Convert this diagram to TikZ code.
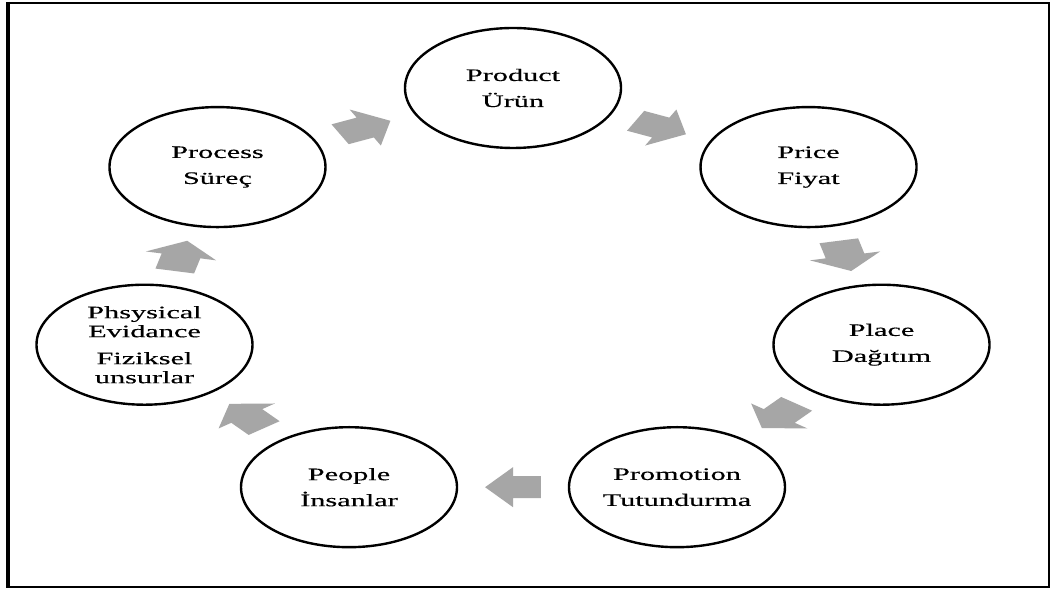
\documentclass[tikz,border=0pt]{standalone}
\usepackage{fontspec}
\setmainfont{Liberation Serif}
\newfontfamily\labelfont{Liberation Serif}[FakeBold=0.3]
\usetikzlibrary{shapes.geometric,calc}
\definecolor{arrowgray}{HTML}{A6A6A6}
% labels are set wide, as in the stretched layout
\newcommand{\widetext}[1]{\scalebox{1.73}[1]{#1}}
\tikzset{
  mixcircle/.style={ellipse, draw=black, line width=2.4pt, minimum width=216pt,
    minimum height=120pt, inner sep=0pt, align=center,
    font=\labelfont\fontsize{17.5}{26}\selectfont},
  flowarrow/.style={fill=arrowgray, draw=none},
}
\begin{document}
\begin{tikzpicture}[x=1pt,y=1pt]
\useasboundingbox (0,0) rectangle (1051,589);
\fill[white] (0,0) rectangle (1051,589);
% frame
\draw[line width=1.5pt] (8,586) -- (1049,586) -- (1049,2) -- (8,2);
\draw[line width=3.5pt] (8,587) -- (8,1.3);

% the seven elements, placed on a ring (stretched horizontally by 1.8)
\node[mixcircle] (prod)   at ({513+378*cos(90)},          {291+210*sin(90)})          {\widetext{Product}\\\widetext{Ürün}};
\node[mixcircle] (price)  at ({513+378*cos(90-360/7)},    {291+210*sin(90-360/7)})    {\widetext{Price}\\\widetext{Fiyat}};
\node[mixcircle] (place)  at ({513+378*cos(90-2*360/7)},  {291+210*sin(90-2*360/7)})  {\widetext{Place}\\\widetext{Dağıtım}};
\node[mixcircle] (promo)  at ({513+378*cos(90-3*360/7)},  {291+210*sin(90-3*360/7)})  {\widetext{Promotion}\\\widetext{Tutundurma}};
\node[mixcircle] (people) at ({513+378*cos(90-4*360/7)},  {291+210*sin(90-4*360/7)})  {\widetext{People}\\\widetext{İnsanlar}};
\node[mixcircle, font=\labelfont\fontsize{17.5}{19}\selectfont] (phys) at ({513+378*cos(90-5*360/7)}, {291+210*sin(90-5*360/7)})
  {\widetext{Phsysical}\\\widetext{Evidance}\\[8pt]\widetext{Fiziksel}\\\widetext{unsurlar}};
\node[mixcircle] (proc)   at ({513+378*cos(90-6*360/7)},  {291+210*sin(90-6*360/7)})  {\widetext{Process}\\\widetext{Süreç}};

% block arrows between consecutive elements
\foreach \a/\b/\k in {prod/price/0, price/place/1, place/promo/2, promo/people/3,
                      people/phys/4, phys/proc/5, proc/prod/6} {
  \pgfmathsetmacro\ang{-(\k+0.5)*360/7}
  \begin{scope}[shift={($(\a.center)!0.5!(\b.center)$)}, xscale=1.8, rotate=\ang]
    \fill[flowarrow] (-15.5,-11) -- (0,-11) -- (0,-20) -- (15.5,0) -- (0,20) -- (0,11) -- (-15.5,11) -- cycle;
  \end{scope}
}
\end{tikzpicture}
\end{document}
